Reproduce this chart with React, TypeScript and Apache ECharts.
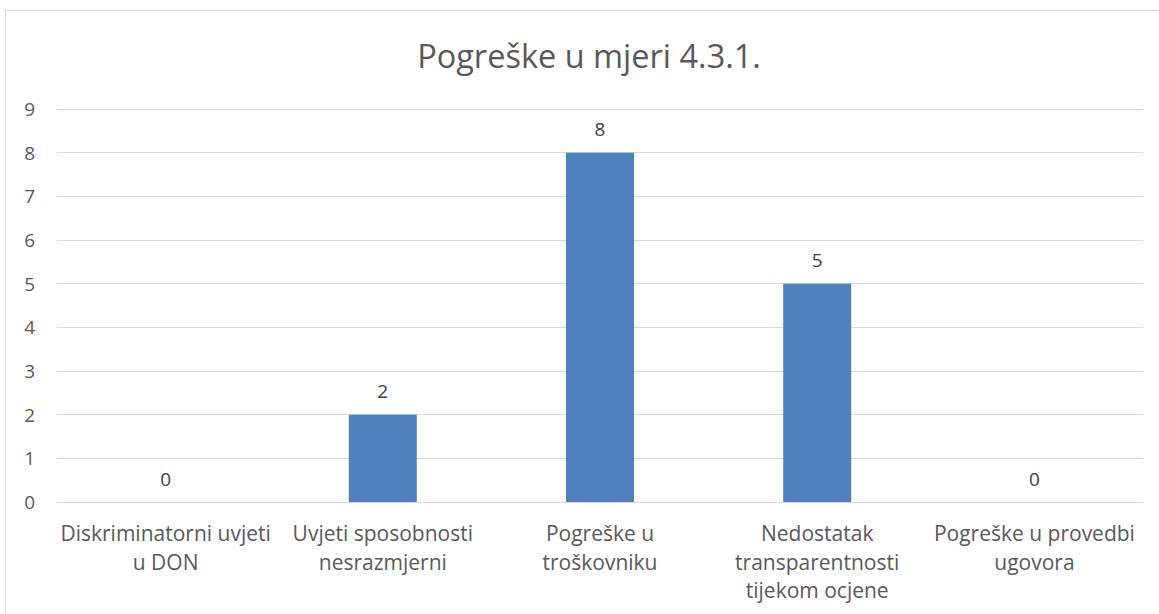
import React, { useEffect, useRef } from "react";
import * as echarts from "echarts";

const titleText = "Pogreške u mjeri 4.3.1.";
const categories = [
  "Diskriminatorni uvjeti\nu DON",
  "Uvjeti sposobnosti\nnesrazmjerni",
  "Pogreške u\ntroškovniku",
  "Nedostatak\ntransparentnosti\ntijekom ocjene",
  "Pogreške u provedbi\nugovora",
];
const values = [0, 2, 8, 5, 0];

export default function App() {
  const ref = useRef<HTMLDivElement>(null);
  useEffect(() => {
    if (!ref.current) return;
    const chart = echarts.init(ref.current, null, { renderer: "svg" });
    const font = "'Open Sans', 'Noto Sans', sans-serif";
    chart.setOption({
      animation: false,
      backgroundColor: "#ffffff",
      title: {
        text: titleText,
        left: 584,
        textAlign: "center",
        top: 34,
        textStyle: { fontFamily: font, fontSize: 32.5, fontWeight: "normal", color: "#595959" },
      },
      graphic: [
        {
          type: "rect",
          shape: { x: 5.5, y: 10.5, width: 1170, height: 620 },
          style: { fill: "none", stroke: "#d9d9d9", lineWidth: 1 },
          silent: true,
        },
      ],
      grid: { left: 57, right: 16, top: 109, bottom: 112, containLabel: false },
      xAxis: {
        type: "category",
        data: categories,
        axisLine: { show: true, lineStyle: { color: "#d9d9d9", width: 1 } },
        axisTick: { show: false },
        axisLabel: {
          interval: 0,
          margin: 17,
          fontFamily: font,
          fontSize: 21,
          lineHeight: 28.5,
          color: "#595959",
          align: "center",
        },
      },
      yAxis: {
        type: "value",
        min: 0,
        max: 9,
        interval: 1,
        axisLine: { show: false },
        axisTick: { show: false },
        splitLine: { lineStyle: { color: "#d9d9d9", width: 1 } },
        axisLabel: { margin: 22, fontFamily: font, fontSize: 19, color: "#595959" },
      },
      series: [
        {
          type: "bar",
          data: values,
          barWidth: 68,
          itemStyle: { color: "#4f81bd" },
          label: {
            show: true,
            position: "top",
            distance: 14,
            fontFamily: font,
            fontSize: 19,
            color: "#404040",
          },
        },
      ],
    });
    return () => chart.dispose();
  }, []);
  return (
    <div
      ref={ref}
      style={{ position: "fixed", left: 0, top: 0, width: 1159, height: 614 }}
    />
  );
}
